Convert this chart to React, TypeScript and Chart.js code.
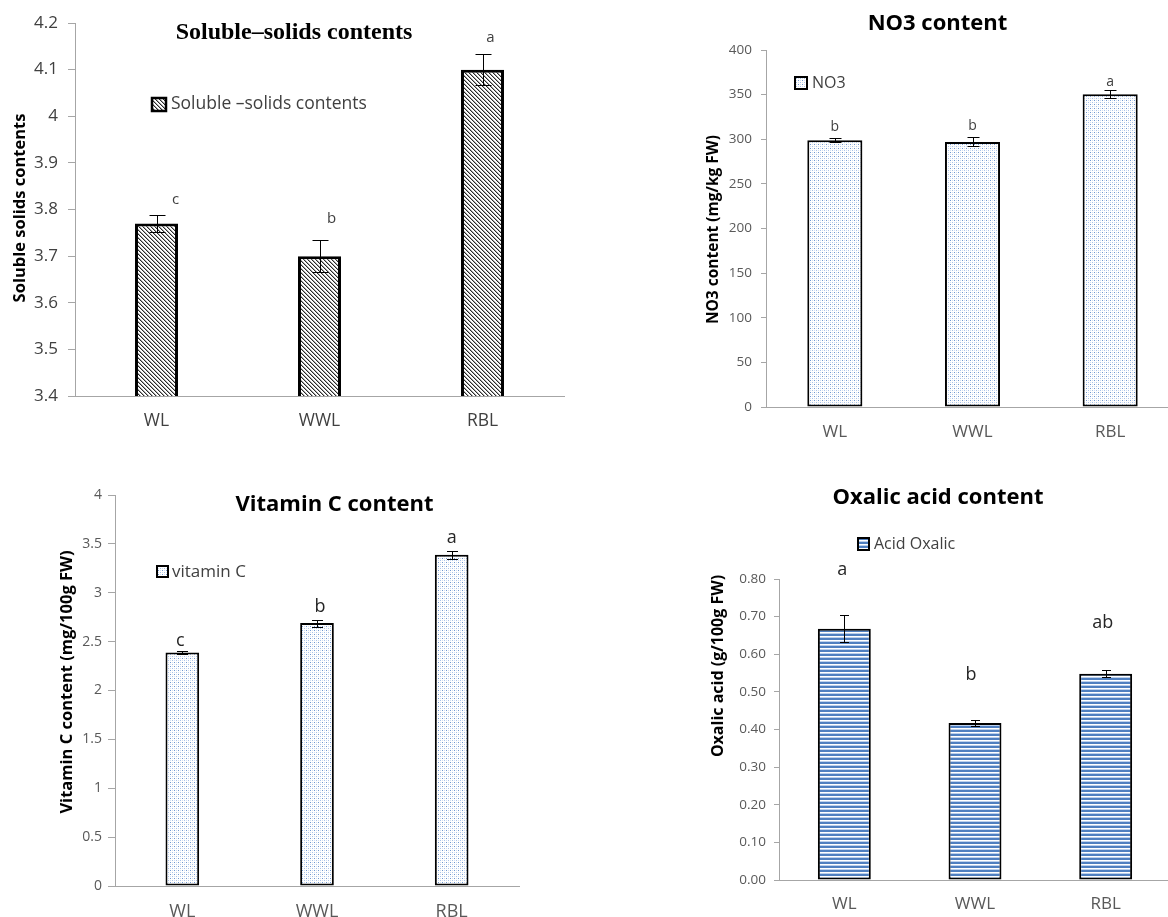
import React, { useEffect, useRef } from "react";
import { Chart, registerables } from "chart.js";

Chart.register(...registerables);
Chart.defaults.font.family = "'Open Sans', sans-serif";

// ---------------- data ----------------
const categories = ["WL", "WWL", "RBL"];

const solubleValues = [3.77, 3.7, 4.1];
const solubleErrors = [0.019, 0.035, 0.034];
const solubleLetters = ["c", "b", "a"];
const solubleRange = [3.4, 4.2, 0.1];

const no3Values = [299, 297, 350.5];
const no3Errors = [2, 5, 4.3];
const no3Letters = ["b", "b", "a"];
const no3Range = [0, 400, 50];

const vitaminCValues = [2.39, 2.69, 3.39];
const vitaminCErrors = [0.019, 0.036, 0.04];
const vitaminCLetters = ["c", "b", "a"];
const vitaminCRange = [0, 4, 0.5];

const oxalicValues = [0.668, 0.417, 0.548];
const oxalicErrors = [0.035, 0.009, 0.009];
const oxalicLetters = ["a", "b", "ab"];
const oxalicRange = [0, 0.8, 0.1];

// ---------------- styling ----------------
const AXIS = "#a6a6a6";

function makePattern(kind: string): CanvasPattern | string {
  const c = document.createElement("canvas");
  c.width = 4;
  c.height = 4;
  const g = c.getContext("2d")!;
  g.fillStyle = "#ffffff";
  g.fillRect(0, 0, 4, 4);
  if (kind === "hatch") {
    for (let y = 0; y < 4; y++) {
      g.fillStyle = "#2a2a2a";
      g.fillRect(y, y, 1, 1);
      g.fillStyle = "#a8a8a8";
      g.fillRect((y + 1) % 4, y, 1, 1);
    }
  } else if (kind === "dots") {
    g.fillStyle = "#7097d0";
    g.fillRect(0, 0, 1, 1);
    g.fillStyle = "#a9c2e8";
    g.fillRect(2, 2, 1, 1);
    g.fillStyle = "#d2dff2";
    g.fillRect(2, 0, 1, 1);
    g.fillRect(0, 2, 1, 1);
  } else if (kind === "stripes") {
    g.fillStyle = "#4f7fc0";
    g.fillRect(0, 0, 4, 2);
    g.fillStyle = "#ffffff";
    g.fillRect(0, 2, 4, 1);
    g.fillStyle = "#bcd0ec";
    g.fillRect(0, 3, 4, 1);
  }
  const p = g.createPattern(c, "repeat");
  return p || "#cccccc";
}

type Spec = {
  box: { x: number; y: number; w: number; h: number };
  area: { left: number; top: number; right: number; bottom: number };
  values: number[];
  errors: number[];
  letters: string[];
  range: number[];
  fmt: (v: number) => string;
  pattern: string;
  borderWidth: number;
  barFraction: number;
  yFont: number;
  xFont: number;
  tickColor: string;
  tickLen: number;
  yPad: number;
  xPad: number;
  cap: number;
  letterFont: string;
  letterColor: string;
  letterOffsets: number[][];
  title: { text: string; x: number; y: number; font: string };
  yTitle: { text: string; x: number; y: number; font: string };
  legend: { text: string; bx: number; by: number; bw: number; bh: number; bl: number; tx: number; ty: number; font: string };
};

const specs: Spec[] = [
  {
    box: { x: 0, y: 0, w: 580, h: 440 },
    area: { left: 75, top: 23, right: 564, bottom: 396 },
    values: solubleValues,
    errors: solubleErrors,
    letters: solubleLetters,
    range: solubleRange,
    fmt: (v) => String(Number(v.toFixed(1))),
    pattern: "hatch",
    borderWidth: 3,
    barFraction: 0.264,
    yFont: 17,
    xFont: 17.5,
    tickColor: "#404040",
    tickLen: 7,
    yPad: 10,
    xPad: 15,
    cap: 8,
    letterFont: "15px 'Open Sans', sans-serif",
    letterColor: "#404040",
    letterOffsets: [[19, -11], [12, -17], [8, -12]],
    title: { text: "Soluble\u2013solids contents", x: 294, y: 33, font: "bold 24px 'Liberation Serif', serif" },
    yTitle: { text: "Soluble solids contents", x: 20, y: 208, font: "bold 16.5px 'Open Sans', sans-serif" },
    legend: { text: "Soluble \u2013solids contents", bx: 152, by: 98, bw: 14, bh: 13, bl: 2.5, tx: 171, ty: 104.5, font: "17.5px 'Open Sans', sans-serif" },
  },
  {
    box: { x: 690, y: 0, w: 500, h: 460 },
    area: { left: 76, top: 50, right: 489, bottom: 407 },
    values: no3Values,
    errors: no3Errors,
    letters: no3Letters,
    range: no3Range,
    fmt: (v) => String(v),
    pattern: "dots",
    borderWidth: 2,
    barFraction: 0.4,
    yFont: 13.5,
    xFont: 17,
    tickColor: "#595959",
    tickLen: 5,
    yPad: 9,
    xPad: 15,
    cap: 6,
    letterFont: "14px 'Open Sans', sans-serif",
    letterColor: "#404040",
    letterOffsets: [[0, -7.5], [0, -7], [0, -4]],
    title: { text: "NO3 content", x: 247.5, y: 24, font: "bold 22px 'Open Sans', sans-serif" },
    yTitle: { text: "NO3 content (mg/kg FW)", x: 24, y: 229.5, font: "bold 15.5px 'Open Sans', sans-serif" },
    legend: { text: "NO3", bx: 105, by: 77, bw: 12, bh: 12, bl: 2, tx: 122, ty: 83, font: "16px 'Open Sans', sans-serif" },
  },
  {
    box: { x: 30, y: 470, w: 500, h: 447 },
    area: { left: 85, top: 25, right: 489, bottom: 416 },
    values: vitaminCValues,
    errors: vitaminCErrors,
    letters: vitaminCLetters,
    range: vitaminCRange,
    fmt: (v) => String(Number(v.toFixed(1))),
    pattern: "dots",
    borderWidth: 2,
    barFraction: 0.25,
    yFont: 14,
    xFont: 18,
    tickColor: "#595959",
    tickLen: 7,
    yPad: 6,
    xPad: 15,
    cap: 5.5,
    letterFont: "18px 'Open Sans', sans-serif",
    letterColor: "#262626",
    letterOffsets: [[-2, -5], [3, -8], [0, -8]],
    title: { text: "Vitamin C content", x: 304.5, y: 34.5, font: "bold 22px 'Open Sans', sans-serif" },
    yTitle: { text: "Vitamin C content (mg/100g FW)", x: 37, y: 212, font: "bold 16.5px 'Open Sans', sans-serif" },
    legend: { text: "vitamin C", bx: 127, by: 96, bw: 11, bh: 11, bl: 2, tx: 142, ty: 102, font: "17px 'Open Sans', sans-serif" },
  },
  {
    box: { x: 680, y: 470, w: 500, h: 447 },
    area: { left: 99, top: 109, right: 491, bottom: 410 },
    values: oxalicValues,
    errors: oxalicErrors,
    letters: oxalicLetters,
    range: oxalicRange,
    fmt: (v) => v.toFixed(2),
    pattern: "stripes",
    borderWidth: 2,
    barFraction: 0.405,
    yFont: 13.5,
    xFont: 17,
    tickColor: "#595959",
    tickLen: 5,
    yPad: 8,
    xPad: 14,
    cap: 4.5,
    letterFont: "18px 'Open Sans', sans-serif",
    letterColor: "#262626",
    letterOffsets: [[-2, -40], [-4, -40], [-3, -42]],
    title: { text: "Oxalic acid content", x: 258, y: 28, font: "bold 22px 'Open Sans', sans-serif" },
    yTitle: { text: "Oxalic acid (g/100g FW)", x: 38, y: 196, font: "bold 16px 'Open Sans', sans-serif" },
    legend: { text: "Acid Oxalic", bx: 178, by: 68, bw: 11, bh: 12, bl: 2, tx: 194, ty: 74, font: "16px 'Open Sans', sans-serif" },
  },
];

function decorPlugin(spec: Spec, fill: CanvasPattern | string) {
  return {
    id: "decor",
    afterDraw(chart: any) {
      const ctx: CanvasRenderingContext2D = chart.ctx;
      const y = chart.scales.y;
      const meta = chart.getDatasetMeta(0);
      ctx.save();
      // error bars
      ctx.strokeStyle = "#000";
      ctx.lineWidth = 1;
      meta.data.forEach((bar: any, i: number) => {
        const v = spec.values[i];
        const e = spec.errors[i];
        const yt = Math.round(y.getPixelForValue(v + e)) + 0.5;
        const yb = Math.round(y.getPixelForValue(v - e)) + 0.5;
        const x = Math.round(bar.x) + 0.5;
        ctx.beginPath();
        ctx.moveTo(x, yt);
        ctx.lineTo(x, yb);
        ctx.moveTo(x - spec.cap, yt);
        ctx.lineTo(x + spec.cap, yt);
        ctx.moveTo(x - spec.cap, yb);
        ctx.lineTo(x + spec.cap, yb);
        ctx.stroke();
      });
      // significance letters
      ctx.font = spec.letterFont;
      ctx.fillStyle = spec.letterColor;
      ctx.textAlign = "center";
      ctx.textBaseline = "alphabetic";
      meta.data.forEach((bar: any, i: number) => {
        const v = spec.values[i];
        const e = spec.errors[i];
        const off = spec.letterOffsets[i];
        ctx.fillText(spec.letters[i], bar.x + off[0], y.getPixelForValue(v + e) + off[1]);
      });
      // title
      ctx.fillStyle = "#000";
      ctx.font = spec.title.font;
      ctx.textAlign = "center";
      ctx.textBaseline = "middle";
      ctx.fillText(spec.title.text, spec.title.x, spec.title.y);
      // y-axis title
      ctx.save();
      ctx.translate(spec.yTitle.x, spec.yTitle.y);
      ctx.rotate(-Math.PI / 2);
      ctx.font = spec.yTitle.font;
      ctx.fillText(spec.yTitle.text, 0, 0);
      ctx.restore();
      // legend
      const L = spec.legend;
      ctx.fillStyle = fill as any;
      ctx.fillRect(L.bx, L.by, L.bw, L.bh);
      ctx.strokeStyle = "#000";
      ctx.lineWidth = L.bl;
      ctx.strokeRect(L.bx, L.by, L.bw, L.bh);
      ctx.fillStyle = "#404040";
      ctx.font = L.font;
      ctx.textAlign = "left";
      ctx.textBaseline = "middle";
      ctx.fillText(L.text, L.tx, L.ty);
      ctx.restore();
    },
  };
}

function buildConfig(spec: Spec): any {
  const fill = makePattern(spec.pattern);
  const a = spec.area;
  return {
    type: "bar",
    data: {
      labels: categories,
      datasets: [
        {
          label: spec.legend.text,
          data: spec.values,
          backgroundColor: fill,
          borderColor: "#000000",
          borderWidth: spec.borderWidth,
          borderSkipped: false,
          barPercentage: 1,
          categoryPercentage: spec.barFraction,
        },
      ],
    },
    options: {
      responsive: false,
      animation: false,
      devicePixelRatio: 1,
      events: [],
      layout: { padding: { left: 0, top: a.top, right: spec.box.w - a.right, bottom: 0 } },
      plugins: {
        legend: { display: false },
        title: { display: false },
        tooltip: { enabled: false },
      },
      scales: {
        x: {
          offset: true,
          grid: { display: true, drawOnChartArea: false, drawTicks: false },
          border: { display: true, color: AXIS, width: 1 },
          ticks: {
            font: { size: spec.xFont },
            color: spec.tickColor,
            padding: spec.xPad,
            maxRotation: 0,
            autoSkip: false,
          },
          afterFit: (s: any) => {
            s.height = spec.box.h - a.bottom;
          },
        },
        y: {
          min: spec.range[0],
          max: spec.range[1],
          ticks: {
            stepSize: spec.range[2],
            font: { size: spec.yFont },
            color: spec.tickColor,
            padding: spec.yPad,
            callback: (v: any) => spec.fmt(Number(v)),
          },
          grid: { display: true, drawOnChartArea: false, drawTicks: true, tickLength: spec.tickLen, color: AXIS },
          border: { display: true, color: AXIS, width: 1 },
          afterFit: (s: any) => {
            s.width = a.left;
          },
        },
      },
    },
    plugins: [decorPlugin(spec, fill)],
  };
}

function Panel({ spec }: { spec: Spec }) {
  const ref = useRef<HTMLCanvasElement>(null);
  useEffect(() => {
    if (!ref.current) return;
    const chart = new Chart(ref.current, buildConfig(spec));
    return () => chart.destroy();
  }, [spec]);
  return (
    <canvas
      ref={ref}
      width={spec.box.w}
      height={spec.box.h}
      style={{ position: "absolute", left: spec.box.x, top: spec.box.y, width: spec.box.w, height: spec.box.h }}
    />
  );
}

export default function App() {
  return (
    <div
      style={{
        position: "absolute",
        left: 0,
        top: 0,
        width: 1168,
        height: 917,
        overflow: "hidden",
        background: "#ffffff",
      }}
    >
      {specs.map((s, i) => (
        <Panel key={i} spec={s} />
      ))}
    </div>
  );
}
